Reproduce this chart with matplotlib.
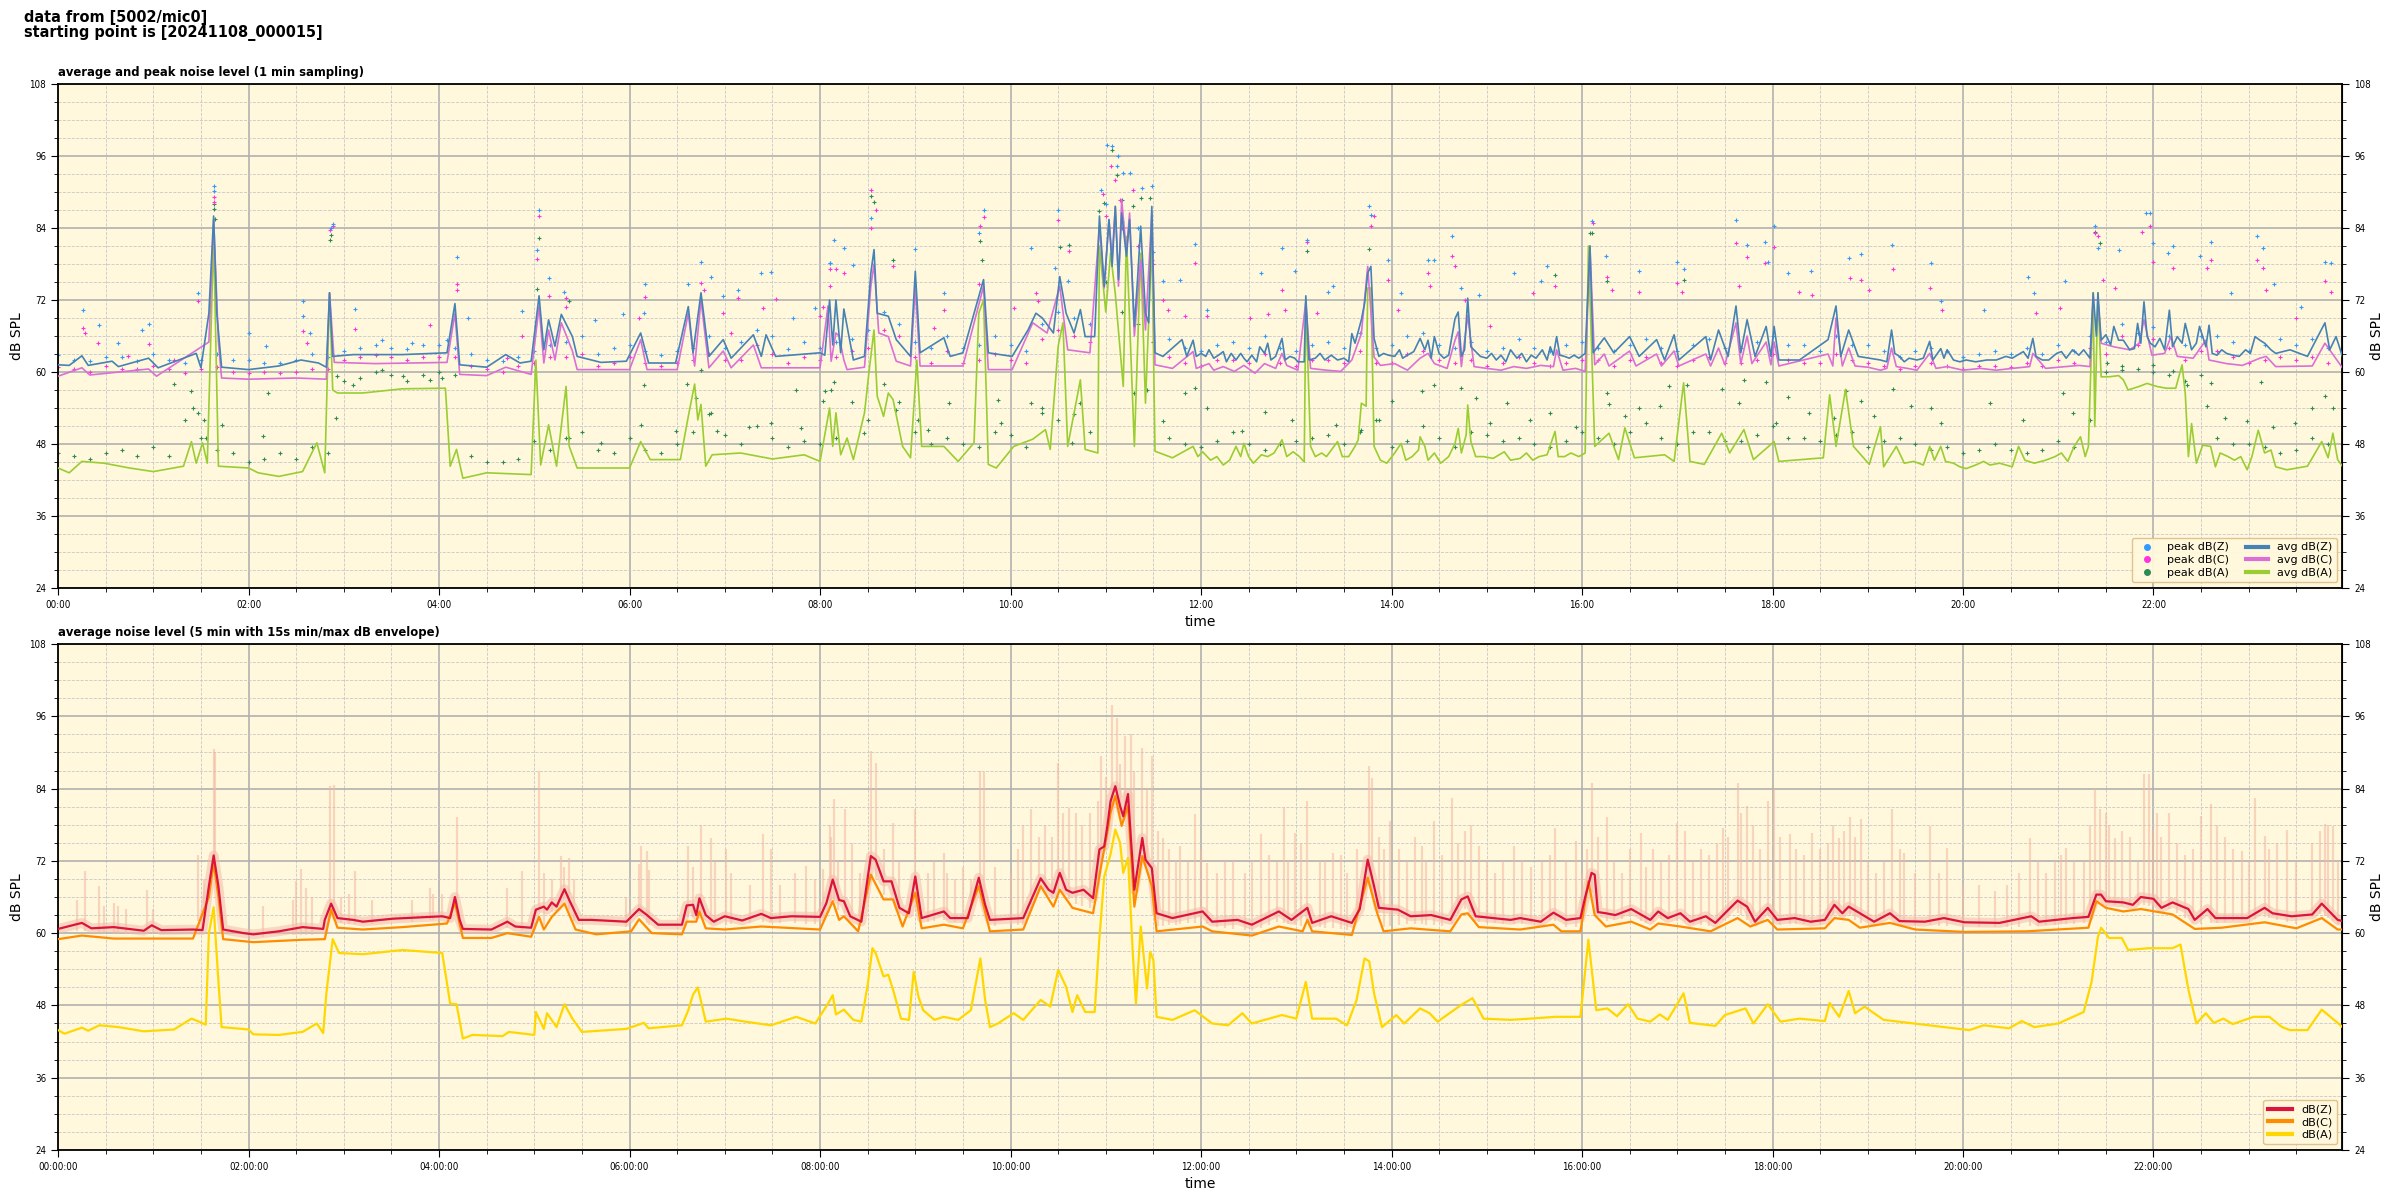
import numpy as np
import matplotlib
matplotlib.use("Agg")
import matplotlib.pyplot as plt
from matplotlib.lines import Line2D
from matplotlib.ticker import MultipleLocator, FuncFormatter
from matplotlib import font_manager as fm

plt.rcParams['font.family'] = ['DejaVu Sans']

# ---------------- TOP PANEL DATA (minutes since 00:00, dB SPL) -------------
avg_z = [(0,61.2),(7,61.1),(15,62.7),(19,61.1),(34,61.8),(38,60.9),(57,62.3),(63,60.7),(87,63.1),(90,60.7),(95,69.8),(98,86),(100,69.8),(103,60.8),(120,60.4),(139,61),(153,62),(164,61.5),(169,60.8),(171,73.2),(173,62.6),(186,62.9),(217,62.9),(245,63.2),(250,71.4),(253,61.2),(270,60.8),(282,62.9),(291,61.5),(298,61.8),(303,72.7),(306,63.7),(309,68.7),(313,64.3),(317,69.6),(324,65.9),(327,62.6),(342,61.6),(358,61.8),(367,66.5),(372,61.5),(389,61.5),(397,70.9),(400,63.2),(405,73.2),(410,62.6),(419,65.4),(424,62.3),(438,66.2),(443,62.6),(446,66.2),(452,62.6),(480,63.2),
(483,62.8),(486,72),(488,64.5),(490,72),(493,63.2),(495,70.5),(501,62),(508,62.6),(512,76.5),(514,80.4),(516,69.8),(523,69.3),(528,65.4),(537,62.6),(540,76.8),(543,63.2),(558,65.7),(562,62.6),(570,63.2),(580,72.6),(583,75.4),(586,63.2),(601,62.6),(611,67),(616,69.8),(620,69),(627,66.5),(631,75.9),(635,69.8),(640,66.5),(644,70.4),(647,65.9),(653,65.9),(656,86),(659,74.3),(662,85.4),(664,77.6),(666,87.6),(668,75.4),(670,86.5),(673,79.3),(675,85.4),(678,67.6),(680,75.4),(682,84.3),(685,69.8),(687,68.2),(689,87.6),(691,63.2),(696,62.6),(708,65.4),(711,62.6),
(715,65.3),(717,62.6),(720,63.1),(723,62.6),(725,63.7),(728,62.3),(731,62.8),(734,63.4),(736,61.7),(739,63.1),(742,62),(745,63.1),(747,62.3),(749,61.7),(752,62.8),(755,61.7),(757,64.2),(760,63.1),(762,64.8),(764,62),(767,62.6),(771,65.6),(773,62),(776,62.6),(779,62.3),(781,61.7),(785,61.7),(786,72.7),(788,62),(792,62.3),(795,63.1),(798,62),(802,62.8),(806,62),(810,62.3),(813,61.7),(815,66.4),(817,64.8),(821,68.7),(823,71.4),(825,76.5),(827,77.6),(829,65.6),(832,62.6),(835,63.1),(838,62.8),(842,62.6),(845,63.7),(847,62.3),(850,62.8),(854,63.4),(858,65.6),(861,63.7),(863,65.3),(865,62.3),(867,65.9),(870,63.1),(873,62.3),(876,62.8),(880,68.9),(882,70),(884,62.6),(886,63.7),(888,72.3),(890,64.2),(893,63.4),(896,62.6),(900,62.3),(903,63.1),(906,62),(909,62.8),(912,61.7),(915,63.7),(919,62.3),(922,63.1),(925,61.7),(928,62.8),(931,62.3),(935,63.7),(938,62),(940,64.2),(942,62.8),(944,65.9),(946,62.8),(949,62.6),(952,62.3),(955,62.8),(958,62.3),(962,63.1),(965,81),
(967,63.2),(974,65.7),(980,63.2),(990,65.9),(996,62.6),(1007,65.4),(1012,62),(1018,66.2),(1021,62),(1038,65.9),(1041,62),(1046,67),(1052,62.6),(1057,71),(1060,63.2),(1064,68.7),(1069,62.6),(1076,67.6),(1079,62.6),(1081,67.6),(1084,62),(1097,62),(1115,65.4),(1120,71),(1123,62.6),(1128,67),(1134,62.6),
(1148,62),(1152,61.7),(1155,67),(1157,63.1),(1160,62.6),(1163,61.7),(1166,62.3),(1171,62),(1175,62.3),(1179,65.1),(1181,62),(1186,63.9),(1188,62.3),(1190,63.7),(1194,62),(1198,61.7),(1202,62),(1208,61.7),(1215,62),(1221,62),(1227,62.6),(1231,62.3),(1238,63.4),(1241,62.3),(1244,65.6),(1246,62.6),(1250,62),(1254,62),(1259,63.1),(1262,63.4),(1265,62.3),(1269,63.7),(1273,62.8),(1276,63.7),(1280,62.3),(1282,73.2),(1284,66),(1285,73.2),(1287,65.3),(1290,66.2),(1293,64.5),(1295,67.6),(1298,65.3),(1301,65.3),(1305,63.7),(1308,63.9),(1310,68.1),(1312,64.8),(1314,71.7),(1316,65.9),(1318,64.8),(1321,64.2),(1324,65.6),(1327,63.7),(1330,70.3),(1332,64.2),(1335,65.9),(1338,64.8),(1340,68.1),(1344,63.7),(1347,64.8),(1349,67.6),(1353,64.2),(1355,67.8),(1357,63.1),(1360,62.8),(1363,63.7),(1366,63.1),(1370,62.8),(1374,62.6),(1378,63.7),(1381,63.1),(1384,65.9),(1387,65.3),(1390,64.8),(1394,63.7),(1397,63.1),
(1406,63.7),(1417,62.6),(1428,68.2),(1431,63.7),(1435,65.9),(1439,62.6)]

avg_c = [(0,59.3),(15,60.7),(20,59.5),(57,60.5),(62,59.3),(95,65),(98,85.4),(101,65),(103,59),(120,58.8),(150,59),(169,58.8),(171,73.2),(174,61.6),(200,61.4),(245,61.6),(250,69.8),(253,59.6),(270,59.4),(282,60.8),(298,59.6),(303,70.9),(306,61.5),(309,67),(313,62),(317,68.2),(324,63.5),(327,60.4),(360,60.4),(367,65.4),(371,60.4),(390,60.4),(397,69.8),(401,61),(405,72),(410,60.7),(419,63.5),(424,60.7),(438,64.5),(443,60.7),(480,60.7),(485,71),(487,61.8),(490,66.5),(492,66),(495,62),(497,60.4),(508,60.8),(512,74.3),(514,78),(517,66.5),(523,65.9),(528,61.8),(537,61),(540,74.3),(543,61),(570,61),(583,74.3),(586,60.4),(601,60.4),(614,68.2),(623,66.5),(631,74.3),(636,63.7),(650,63.2),(656,84.3),(659,74),(662,85.4),(664,79),(666,87.6),(668,74.3),(670,88.7),(673,80),(675,86.5),(678,66),(682,78.7),(685,67),(689,86.5),(691,61.2),(702,60.6),
(715,63.4),(717,60.6),(725,61.4),(728,60.3),(734,60.9),(741,60.1),(747,61.1),(754,59.8),(760,61.4),(767,60.6),(771,63.1),(774,61.1),(781,60.3),(786,71.8),(789,60.6),(799,60.3),(808,60.1),(815,62),(821,66.4),(825,77.6),(829,62.5),(833,61.1),(842,61.4),(850,60.3),(858,62.3),(863,63.1),(867,61.4),(875,60.6),(880,65.3),(882,66.7),(884,60.9),(888,69.4),(892,60.9),(900,60.6),(909,60.3),(917,60.9),(925,60.6),(934,61.1),(942,60.9),(944,63.7),(948,60.3),(956,60.6),(962,60.1),(965,81),
(968,61.2),(974,63),(977,61),(990,63.5),(994,61),(1007,63),(1010,61),(1018,63.5),(1021,61),(1038,63),(1041,61),(1046,64),(1050,61.2),(1057,68.2),(1060,61.4),(1064,66),(1067,61.4),(1076,65),(1079,61.2),(1081,65),(1084,61),(1115,63),(1118,61),(1120,69),(1124,61),(1128,64),(1132,61),(1140,60.8),
(1148,60.3),(1152,60.6),(1155,64),(1158,60.9),(1165,60.6),(1171,60.3),(1179,63.1),(1183,60.6),(1190,60.9),(1200,60.3),(1211,60.6),(1221,60.3),(1231,60.6),(1242,60.9),(1244,63.1),(1252,60.6),(1265,60.9),(1273,61.1),(1280,60.9),(1282,72),(1285,72),(1287,64.8),(1295,64.2),(1305,63.7),(1311,64.8),(1314,68.7),(1319,62.8),(1327,63.1),(1331,65.9),(1335,62.6),(1345,62.3),(1353,65.3),(1355,62),(1366,61.4),(1376,61.1),(1387,62.3),(1391,62.6),(1397,60.9),
(1420,61),(1428,64.8),(1439,60.7)]

avg_a = [(0,44),(7,43.2),(15,45.1),(29,44.8),(45,44),(60,43.4),(79,44.3),(84,48.4),(87,44.8),(91,48.2),(94,44.8),(98,82.6),(101,44.3),(120,44),(126,43.2),(139,42.6),(154,43.4),(163,48.2),(168,43.2),(171,73.2),(173,57),(176,56.5),(192,56.5),(217,57.2),(244,57.3),(247,44.3),(251,47.1),(255,42.3),(270,43.2),(298,42.9),(301,62),(304,44.5),(309,51.2),(314,44.3),(320,57.6),(322,47.6),(327,44),(360,44),(367,48.4),(373,45.4),(392,45.4),(397,52.6),(401,58),(403,52),(405,54.6),(408,44.3),(412,46.2),(430,46.5),(450,45.5),(470,46.2),(480,45.1),(486,54),(488,47.6),(490,53.2),(493,46.2),(497,49),(501,45.4),(508,53.2),(511,60.4),(514,67),(516,56),(520,52.6),(523,56.5),(526,55.4),(532,47.6),(537,45.7),(541,62),(544,47.6),(558,47.6),(567,45.1),(577,48.2),(580,69.8),(583,72),(586,44.6),(591,44),(602,47.6),(614,48.8),(622,50.4),(625,47.1),(630,64.3),(633,68.2),(636,47.6),(644,58.7),(647,47.1),(655,46.5),(656,81),(660,70),(663,79.8),(666,73),(671,57.6),(673,82.6),(678,47.6),(682,79.8),(685,54.8),(689,82),(691,46.8),(702,45.7),
(715,47.6),(718,45.9),(721,46.7),(726,45.3),(730,45.9),(734,44.5),(738,45.3),(742,47.6),(745,45.9),(747,48.1),(750,45.9),(753,44.8),(758,46.2),(762,45.9),(766,46.5),(771,48.7),(774,45.9),(778,46.7),(782,45.9),(785,45),(786,72),(789,47.6),(792,45.9),(796,46.5),(799,45.9),(806,48.4),(809,45.9),(813,45.9),(817,47.6),(819,48.7),(821,54.8),(824,54.3),(825,74),(827,74),(829,47.6),(833,45.3),(837,44.8),(842,46.5),(846,48.1),(849,45.3),(853,45.9),(857,47),(858,49.2),(861,47.6),(863,45.3),(867,46.5),(871,44.8),(876,45.9),(880,48.1),(882,50.6),(884,46.5),(887,49.5),(888,54.5),(890,48.4),(893,45.9),(898,45.9),(904,45.6),(911,46.7),(915,45.3),(921,45.6),(925,46.5),(929,45.3),(933,45.9),(938,46.2),(943,50.1),(945,45.9),(949,45.9),(953,46.5),(958,45.9),(962,46.5),(964,81),
(968,47.6),(977,49.8),(983,45.4),(987,50.7),(993,45.7),(1012,46.2),(1018,45.1),(1024,58.2),(1028,45.1),(1037,44.6),(1048,49.8),(1053,46.5),(1062,50.4),(1068,45.4),(1081,48.4),(1084,45.1),(1112,45.7),(1116,56.2),(1120,47.6),(1126,57.1),(1131,47.6),(1141,44.6),
(1148,50.9),(1150,44.2),(1154,45.9),(1158,47.6),(1163,44.8),(1169,45.1),(1175,44.5),(1179,47.6),(1182,45.3),(1186,47.6),(1189,45.1),(1194,44.8),(1198,44.2),(1202,43.9),(1208,44.5),(1213,45.1),(1217,44.5),(1223,44.8),(1231,44.2),(1235,47.6),(1239,45.3),(1245,44.8),(1252,45.3),(1258,45.9),(1262,46.5),(1266,45.1),(1270,47.6),(1274,49.2),(1277,45.9),(1279,47.6),(1282,73.2),(1283,50.9),(1285,73.2),(1287,59.2),(1292,59.2),(1298,59.4),(1301,58.7),(1304,57),(1311,57.6),(1316,58.1),(1322,57.6),(1328,57.3),(1334,57.3),(1338,61.2),(1340,56.5),(1342,45.9),(1344,51.4),(1347,44.8),(1351,47.8),(1356,47.6),(1359,44.2),(1362,46.5),(1367,45.9),(1371,45.3),(1375,45.9),(1379,43.7),(1382,45.9),(1386,50.3),(1390,46.5),(1394,47),(1397,44.2),
(1404,43.7),(1417,44.3),(1426,48.4),(1430,45.7),(1433,49.8),(1436,45.4),(1439,44.3)]

# typical 1-min peak levels, two readings per 20 minutes
peak_t1 = list(range(10, 1440, 20))
peak_t2 = list(range(0, 1440, 20))
peak_z_1 = [62,62.5,61.8,62,62,62,61.5,62,62.5,64,64,64.5,64,62,62.5,64.5,66,64,63.5,63.5,66,65,66,65,
            65,67,68,64,64,66,63.5,70,68,85,80,64,64.5,64,64,64.5,64,64,66,64.5,65,64,64,64.5,
            64,64.5,64,64.5,64,65,64.5,63.5,64.5,63.5,63.5,63.5,63,63,63,63.5,65,66.5,66,66,65,64.5,64.5,64]
peak_z_2 = [62.8,61.8,62.5,63,61.5,63,62,61.5,63,63.5,64.5,63.8,64.5,63,61.8,63.5,65,63,64.5,62.8,64,64,67,63.8,
            64,65.5,70,65,66,64.5,64.5,68,69,88,84,65.5,63.5,65,66,63.5,65,66.5,64.5,66.5,64,63.5,65.5,63.5,
            65,63.5,65.5,63.5,65.5,64,66,64.5,66,64.5,62.5,64,62.5,63.5,64,64.5,66,68,67.5,64.5,66,63.5,65.5,65.5]
peak_c_1 = [60.5,61,60.5,60.5,60.5,60,60,60,60.5,62.5,62.5,62.5,62.5,60.5,61,62.5,63,61.5,61.5,61.5,63,62,63,62.5,
            62.5,64,66,61.5,61.5,63,61.5,67,65,84,78,61.5,62,61.5,61.5,62,61.5,61.5,63,62,62,61.5,61.5,61.5,
            62,62,61.5,62,61.5,62,62,61.5,62,61,61,61,61,60.8,61,61.5,63,64.5,64,63.5,62.5,62,62,61.5]
peak_c_2 = [60.8,60,60.5,61,59.8,60.8,59.8,59.8,60.5,62,62.8,62,62.5,61,60,61.5,62.5,61,62.5,61,62,62,64.5,61.5,
            62,63.5,67,62.5,63.5,62,62,65.5,66,86,81,62.5,61,62,63,61,62,63.5,61.5,63.5,61.5,61,62.5,61,
            62,61,62.5,61,62.5,61.5,63,61.5,63,61.5,60.5,61.5,60.5,61,61.5,62,64,66,65.5,62,63.5,61.5,62.5,62.5]
peak_a_1 = [46,46.5,46,46,49,46.5,45.5,45.5,46.5,59,59.5,59.5,59.5,45,45.5,47,50,46.5,47,48,53,48,49,48.5,
            49,52,55,48,48,50,47.5,52,50,70,65,48,48.5,48,48,49,48,52,48.5,49,50,48.5,48,48.5,
            49,50,49,50,48.5,49.5,49,48.5,50,48.5,48,47.5,47,47,47,47.5,60,60.5,59.5,59.5,48,47.5,47,48]
peak_a_2 = [46.5,45.5,47,47.5,52,47,45,46.5,47.5,58.5,60,58.5,60,46,45,48.5,49,47,49,46.5,50,49.5,51,47.5,
            48,55,58,50,49,47.5,49.5,54,53,75,68,49,47.5,50,47,48.5,49.5,50,47.5,51,47.5,49.5,49,47.5,
            50,48,51.5,48,50,48.5,51,49,49.5,47.5,49,47,46.5,48,46.5,48.5,52,61,60,58.5,49,48,46.5,49]

peak_z_out = [(16,70.4),(26,67.9),(38,64.8),(53,67),(57,68),(88,73.2),(98,90.1),(98,91),(120,66.5),(131,64.3),(154,71.8),(154,69.3),(159,66.5),(172,84),(173,84.7),(187,70.5),(204,65.4),(223,64.8),(245,65.4),(251,79.2),(258,69),(292,70.2),(303,87),(302,80.4),(309,75.7),(319,73.4),(338,68.7),(356,69.6),(370,74.6),(369,69.8),(397,74.6),(405,78.4),(411,75.9),(419,72.6),(428,73.7),(443,76.5),(449,76.6),(463,69),(477,70.7),(486,78.2),
              (489,82),(495,80.7),(486,78.2),(512,85.7),(501,77.9),(540,80.5),(558,73.2),(583,87),(580,83.2),(613,80.7),(630,87),(628,77.3),(636,75.1),(661,97.9),(664,97.7),(668,96),(667,94.3),(671,93.2),(675,93.2),(657,90.4),(683,90.7),(689,91),(696,75.1),(716,81.4),(707,75.4),(724,70.4),(758,76.5),(771,80.7),(779,76.8),(787,82),(800,73.4),(803,74.3),(826,87.6),(827,86.2),(838,78.7),(846,73.2),(863,78.7),(867,78.7),(878,82.6),(884,74),(895,72.9),(917,76.5),(934,75.1),(938,77.6),(966,85.1),
              (975,79.4),(996,76.8),(1020,78.4),(1024,77.1),(1057,85.3),(1064,81.2),(1075,81.7),(1077,78.4),(1081,84.3),(1090,76.5),(1104,76.8),(1128,79),(1136,79.6),(1155,81.2),(1180,78.2),(1186,71.8),(1213,70.4),(1241,75.8),(1245,73.2),(1264,75.1),(1283,84.3),(1285,80.7),(1298,80.4),(1315,86.5),(1318,86.5),(1320,81.5),(1329,79.8),(1332,81),(1349,79.3),(1356,81.6),(1369,73.2),(1385,82.6),(1389,80.7),(1396,74.6),(1413,70.9),(1428,78.3),(1432,78.2)]

peak_c_out = [(16,67.3),(17,66.5),(25,64.8),(44,62.6),(57,64.6),(73,62),(88,71.8),(98,89.2),(98,88.4),(154,66.9),(157,64.8),(171,83.7),(173,84.4),(187,67.2),(234,67.9),(251,74.7),(251,73.7),(283,62.3),(292,66),(303,86),(302,78.9),(309,72.6),(320,70.9),(320,72.3),(366,69),(370,72.5),(405,74.8),(407,73.7),(419,69.8),(424,66.5),(428,72.3),(444,70.7),(452,72.2),(480,69.3),(486,77.1),
              (482,70.9),(486,74.3),(490,77.1),(495,76.5),(512,90.4),(515,87),(512,84),(526,77.6),(552,67.3),(558,70.4),(580,74.6),(581,84.3),(583,85.9),(602,70.7),(616,73.2),(617,71.8),(630,85.4),(637,80.1),(658,89.6),(663,94.4),(666,92),(669,88.7),(677,90.4),(689,78.7),(696,72),(699,70.4),(710,69.3),(716,78.2),(724,69.3),(751,69),(762,69.6),(771,73.6),(773,70.4),(787,81.6),(793,69.8),(827,84.3),(829,86),(838,75.4),(844,70.4),(863,76.5),(864,74.3),(878,79.3),(880,77.6),(886,72),(902,67.6),(929,73.2),(943,74.3),(967,84.8),
              (976,75.9),(979,73.6),(996,73.4),(1020,74.8),(1023,73.4),(1057,81.5),(1059,74.3),(1064,79.2),(1075,78.2),(1081,80.9),(1097,73.4),(1105,72.9),(1129,75.7),(1136,75.4),(1141,73.7),(1156,77.2),(1179,74),(1187,70.4),(1246,69.8),(1261,70.7),(1283,83.2),(1285,82.6),(1288,75.4),(1296,74),(1313,83.4),(1318,84.3),(1320,78.4),(1332,77.3),(1354,77.3),(1356,78.7),(1385,78.7),(1389,77.3),(1391,73.6),(1410,69),(1428,75.1),(1432,73.4)]

peak_a_out = [(73,58),(84,56.8),(85,54),(88,53.2),(92,52),(93,49),(98,88),(98,87.2),(99,85.5),(103,51.2),(129,49.3),(132,56.5),(172,82.9),(171,82),(175,52.3),(176,59.3),(186,57.9),(204,60.4),(217,59.3),(234,58.7),(242,59),(303,82.3),(302,73.8),(322,71.8),(322,49),(342,48.2),(369,57.9),(367,51.2),(389,50.1),(396,58),(402,55.7),(405,60.4),(411,53.2),(415,50.1),(435,50.9),(449,51.5),(465,57),(468,50.7),(482,55.1),(487,57),
              (483,56.8),(489,58.4),(508,49.8),(512,89.3),(514,88.4),(526,78.7),(528,53.7),(542,52),(548,50.4),(561,54.8),(581,81.8),(582,78.7),(592,55.4),(594,51.5),(613,54.8),(620,53.2),(631,80.9),(637,81.2),(639,48.2),(644,54.8),(656,86.8),(659,88.2),(664,97),(667,92.9),(670,88.7),(677,87.6),(682,89),(688,89),(678,56.5),(686,57),(696,51.8),(710,56.5),(716,57.3),(724,54),(746,50.1),(760,53.4),(777,52),(787,80.1),(805,51.2),(821,50.4),(826,80.5),(832,52),(840,55.1),(859,56.8),(867,57.9),(884,57.3),(893,55.7),(902,51.5),(913,54.8),(927,52),(943,76.2),(940,53.2),(956,50.9),(966,83.2),
              (965,83.2),(976,75.1),(976,56.5),(977,54.6),(987,52.6),(996,54),(1009,54.3),(1015,57.6),(1024,75.4),(1026,57.9),(1048,57.1),(1059,54.8),(1062,58.7),(1076,58.4),(1082,51.5),(1090,55.9),(1103,53.2),(1119,52.3),(1126,56.8),(1136,55.1),(1144,52.6),(1156,57.1),(1167,54.3),(1180,54),(1186,51.5),(1217,54.8),(1238,52),(1263,56.5),(1269,53.2),(1283,83.4),(1286,81.5),(1291,61.5),(1300,60.4),(1320,61.2),(1332,60.1),(1341,57.9),(1354,54.3),(1356,58.2),(1365,52.3),(1379,51.8),(1388,58.4),(1395,50.9),(1409,51.5),(1420,54),(1428,56),(1433,54)]

# ---------------- BOTTOM PANEL DATA (5 min averages) -----------------------
bot_z = [(0,60.7),(15,61.7),(21,60.8),(35,61),(54,60.4),(59,61.3),(65,60.5),(85,60.6),(91,60.5),(95,67.8),(98,72.9),(101,67.8),(104,60.6),(117,60),(123,59.8),(139,60.3),(154,61),(167,60.7),(168,62.2),(172,64.9),(176,62.5),(186,62.2),(192,61.9),(211,62.4),(242,62.8),(247,62.5),(250,66),(253,62.2),(255,60.7),(273,60.6),(283,61.9),(288,61.1),(298,60.9),(301,63.9),(306,64.4),(308,63.9),(311,65.1),(314,64.4),(319,67.3),(322,65.5),(328,62.2),(336,62.2),(358,61.9),(366,64),(371,63),(378,61.4),(393,61.4),(396,64.6),(400,64.7),(402,63),(404,65.8),(408,63),(413,61.9),(420,62.8),(431,62.1),(443,63.2),(449,62.5),(462,62.8),(480,62.7),(484,65),(488,68.9),
         (492,65.5),(495,65.3),(499,62.8),(506,61.9),(512,72.8),(515,72.2),(520,68.6),(525,68.6),(530,64.2),(536,63.3),(540,69.4),(544,62.5),(558,63.6),(562,62.5),(573,62.5),(580,69.2),(584,64.7),(587,62.2),(608,62.5),(619,69.1),(624,67.2),(627,66.7),(631,70),(635,67.2),(639,66.7),(646,67.2),(652,65.8),(656,73.9),(659,74.4),(661,77.8),(663,81.9),(666,84.4),(669,81.1),(671,79.4),(674,83.1),(676,75),(678,67.2),(683,75.8),(685,72.2),(689,70.8),(692,63.3),(702,62.5),(721,63.6),(727,61.9),(743,62.2),(752,61.4),(769,63.6),(777,62.2),(787,64.2),(790,61.7),(802,62.8),(815,61.7),(820,64),(825,72.2),(829,67.8),(832,64.2),(844,63.9),(852,62.8),(865,63),(877,62.2),(884,65.6),(888,66.1),(893,62.8),(915,62.2),(921,62.5),(934,61.9),(942,63.4),(950,62.2),(959,62.5),(962,66),(966,70),(968,69.7),(970,63.5),
         (975,63.3),(981,63),(991,64),(1003,62.2),(1008,63.6),(1014,62.5),(1022,63.3),(1028,61.9),(1038,62.8),(1044,61.7),(1050,63.3),(1058,65.4),(1064,64.4),(1069,61.9),(1077,64.2),(1083,62.2),(1094,62.5),(1104,61.9),(1113,62.2),(1119,64.7),(1124,63.3),(1128,64.4),(1135,63.3),(1144,61.9),(1154,63.3),(1160,62),(1176,61.9),(1188,62.5),(1201,61.8),(1223,61.7),(1243,62.8),(1248,61.9),(1269,62.5),(1279,62.7),(1284,66.4),(1287,66.4),(1290,65.3),(1301,65.1),(1307,64.7),(1312,66),(1320,65.7),(1325,64.2),(1332,65.1),(1342,64),(1346,62.2),(1354,64),(1359,62.5),(1379,62.5),(1390,64.2),(1395,63.3),(1407,62.8),(1420,63.1),(1426,64.9),(1436,62.2),(1439,62)]

bot_c = [(0,59),(15,59.6),(35,59.1),(85,59.1),(95,66),(98,71.7),(101,66),(104,59),(123,58.5),(154,58.9),(168,59),(172,63.9),(176,60.9),(192,60.6),(217,61),(245,61.6),(250,65),(255,59.2),(273,59.2),(283,60),(298,59.4),(303,62.7),(306,60.6),(311,62.7),(319,64.9),(326,60.6),(339,59.8),(361,60.3),(366,62.3),(374,60),(393,59.8),(396,61.9),(402,61.9),(404,63.6),(408,60.8),(420,60.6),(443,61.1),(480,60.6),(488,65.3),(492,62.2),(495,62.8),(504,60.3),(512,69.7),(520,65.6),(526,65.6),(532,61.1),(540,66.7),(544,60.8),(558,61.4),(570,60.8),(580,67.8),(587,60.3),(608,60.6),(619,67.8),(627,64.4),(631,67.2),(639,64.2),(652,63.3),(657,71.1),(661,76.7),(663,80),(666,82.8),(670,77.8),(674,81.1),(678,64.4),(683,72.8),(689,67.8),(692,60.3),(721,61.1),(727,60.3),(752,59.6),(769,61.1),(784,60.3),(787,62.2),(790,60.3),(815,59.7),(825,69.2),(831,63.3),(835,60.3),(852,60.8),(877,60.3),(884,63.1),(888,63.3),(895,61),(921,60.6),(942,61.4),(947,60.3),(959,60.3),(964,68.6),(968,63),(975,61.1),(991,61.9),(1003,60.6),(1008,61.6),(1022,61.1),(1041,60.3),(1058,62.5),(1066,61.1),(1077,62.2),(1083,60.6),(1113,60.8),(1119,62.5),(1128,62.2),(1135,60.9),(1154,61.7),(1170,60.6),(1201,60.2),(1240,60.3),(1279,60.9),(1284,65.3),(1290,64.2),(1301,63.6),(1312,64),(1332,63.1),(1346,60.7),(1363,60.9),(1390,61.8),(1410,60.8),(1426,62.5),(1436,60.6),(1439,60.6)]

bot_a = [(0,43.9),(4,43.3),(15,44.3),(19,43.8),(26,44.7),(38,44.4),(54,43.7),(73,44),(84,45.8),(88,45.4),(93,44.8),(95,60),(98,64.3),(101,52),(103,44.4),(120,44),(123,43.2),(139,43.1),(154,43.6),(163,45),(167,43.4),(169,50),(173,59),(177,56.7),(192,56.5),(217,57.2),(242,56.7),(247,48.3),(251,48.2),(255,42.5),(261,43.1),(280,42.9),(284,43.6),(300,43.1),(301,46.9),(306,44.1),(308,46.7),(314,44.4),(319,48.2),(324,45.8),(330,43.6),(358,44.1),(369,45.1),(372,44.2),(393,44.7),(397,47.2),(400,49.8),(403,51),(408,45.3),(421,45.8),(433,45.3),(449,44.7),(465,46.1),(477,45),(485,48.3),
         (488,49.7),(490,46.5),(495,47.3),(501,45.6),(506,45.3),(510,51.4),(513,57.5),(515,56.7),(520,52.8),(523,53.1),(526,50.6),(531,45.8),(536,45.6),(539,53.6),(542,49.4),(545,47.2),(552,45.6),(558,46.1),(567,45.6),(575,47.2),(581,55.8),(584,48.9),(587,44.4),(592,45),(602,46.7),(608,45.6),(619,48.9),(625,47.8),(630,53.9),(635,51.1),(639,46.9),(642,49.7),(647,46.9),(653,46.9),(656,59.2),(659,69.4),(663,73.1),(666,77.2),(669,75),(671,70),(674,72.5),(677,56.7),(679,48.3),(682,61.1),(686,50.8),(688,56.9),(690,55.5),(692,46.1),(702,45.6),(716,47.2),(727,45),(737,44.7),(746,46.7),(752,45),(771,46.4),(780,45.8),(786,51.9),(790,45.8),(805,45.8),(812,44.7),(818,48.9),(823,55.8),(826,55.3),(829,50),(834,44.4),(843,46.4),(848,45),(858,47.5),(864,46.7),(869,45.3),(884,48.1),(891,49.2),(898,45.8),(915,45.6),(927,45.8),(943,46.1),(959,46.1),(964,58.9),(969,47.2),
         (976,47.5),(982,46.2),(989,48.2),(995,45.8),(1003,45.3),(1009,46.5),(1014,45.6),(1024,50),(1028,45.1),(1044,44.6),(1050,46.4),(1063,47.5),(1068,45),(1077,48.2),(1085,45.3),(1097,45.8),(1113,45.4),(1116,48.4),(1122,46.1),(1128,50.4),(1132,46.7),(1138,47.8),(1150,45.6),(1169,45),(1194,44.2),(1204,43.9),(1213,44.7),(1229,44.2),(1237,45.4),(1245,44.4),(1260,45),(1276,46.9),(1281,51.9),(1285,59.4),(1287,60.9),(1292,59.2),(1300,59.2),(1304,57.2),(1317,57.5),(1332,57.5),(1337,58.1),(1342,50.6),(1347,45),(1353,46.7),(1358,45.1),(1364,45.8),(1370,44.9),(1383,46.1),(1393,46.1),(1401,44.4),(1406,43.9),(1417,43.9),(1426,47.3),(1436,45.1),(1439,44.4)]

# 15 s max dB envelope peaks
env_max = [(17,70.3),(26,67.8),(56,67.1),(88,73),(98,90.6),(99,90),(150,68.6),(153,70.6),(171,84.4),(174,84.6),(187,70.3),(234,67.5),(251,79.2),(292,70.3),(303,87),(317,72.8),(322,72.5),(367,74.4),(371,73.6),(397,74.4),(405,78),(411,75.8),(421,73.9),(444,76.4),(449,73.9),(471,71.1),(486,78),
           (482,70.6),(489,82.2),(496,80.6),(512,90.3),(515,88.3),(526,78.3),(540,80.6),(558,73.3),(581,86.9),(583,86.8),(613,80.6),(630,88.3),(637,80.8),(657,89.4),(664,97.8),(667,95.8),(672,92.8),(676,93),(683,90.8),(689,89.4),(696,75.8),(716,79.7),(707,74.4),(724,71.7),(758,76.4),(772,80.7),(779,76.7),(787,81.9),(803,73.3),(826,87.8),(828,85.8),(839,78.6),(859,74.4),(867,78.6),(878,82.5),(895,74.4),(917,74.4),(943,77.5),(956,75.3),(966,85),
           (976,79.2),(997,76.7),(1020,78.3),(1025,76.9),(1049,77.5),(1058,85),(1064,81.1),(1077,81.9),(1081,83.9),(1091,76.4),(1105,76.7),(1122,75.8),(1129,79.2),(1136,78.9),(1155,80.6),(1163,73.3),(1179,77.8),(1190,74.2),(1242,75.8),(1265,74.2),(1283,83.9),(1286,80.6),(1296,75.8),(1314,86.4),(1317,86.4),(1320,77.2),(1330,80),(1350,79.4),(1356,81.4),(1376,73.6),(1384,82.5),(1390,76.1),(1404,77.2),(1428,78.1),(1433,77.8)]
env_max_small = [(12,65.5),(29,64.5),(35,65),(38,64.5),(43,64),(60,64),(92,69),(129,64.5),(148,65.5),(156,67.5),(160,66),(178,66),(183,66.5),(198,65.5),(223,65.5),(236,66.5),(242,66.5),(283,67.5),(306,70),(311,69),(319,71),(325,69),(358,66),(366,71.5),(372,70.5),(400,71),(414,72),(424,70),(436,68),(455,68),(464,70),(477,69),
                 (487,76),(491,72),(500,75),(505,70),(520,74),(530,72),(548,70),(552,72),(560,70),(565,69),(570,71),(575,69),(590,71),(600,70),(605,74),(608,78),(618,76),(622,78),(626,76),(633,80),(641,80),(645,78),(650,80),(655,82),(660,86),(669,88),(678,87),(686,84),(693,77),(700,74),(704,72),(712,72),(720,74),(730,70),(735,72),(740,72),(748,70),(752,72),(763,73),(768,72),(775,72),(783,75),(795,72),(798,72),(808,73),(812,70),(818,74),(832,76),(835,74),(845,74),(850,72),(855,76),(862,72),(872,73),(882,75),(886,77),(890,78),(900,72),(905,70),(910,72),(922,72),(928,71),(935,72),(940,73),(950,72),(960,70),
                 (963,74),(970,76),(980,72),(985,70),(990,74),(1000,71),(1005,74),(1010,72),(1015,73),(1030,72),(1035,74),(1040,73),(1045,75),(1052,76),(1060,80),(1068,78),(1072,74),(1085,76),(1095,74),(1100,73),(1110,74),(1115,75),(1118,78),(1125,77),(1132,76),(1140,72),(1145,70),(1150,72),(1160,74),(1170,70),(1185,70),(1200,68),(1210,68),(1220,67),(1228,68),(1235,70),(1247,72),(1252,70),(1258,72),(1262,73),(1270,72),(1276,72),(1280,78),(1290,80),(1292,78),(1300,77),(1305,76),(1310,72),(1322,80),(1325,76),(1335,75),(1340,73),(1345,74),(1360,78),(1365,76),(1370,74),(1380,72),(1393,74),(1398,75),(1410,72),(1420,75),(1425,77),(1430,78),(1436,72)]

# ----------------------------------------------------------------------------
def unz(pairs):
    a = np.array(pairs, dtype=float)
    return a[:, 0], a[:, 1]

# pick a condensed face for titles / ticks if one is installed
COND = {}
_faces = fm.fontManager.ttflist
if any(f.name == 'DejaVu Sans' and f.stretch in ('condensed', 'semi-condensed') for f in _faces):
    COND = dict(family='DejaVu Sans', fontstretch='condensed')
elif any(f.name == 'Liberation Sans Narrow' for f in _faces):
    COND = dict(family='Liberation Sans Narrow')
elif any(f.name == 'Roboto Condensed' for f in _faces):
    COND = dict(family='Roboto Condensed')

BG = '#fff8dc'
fig = plt.figure(figsize=(24, 12), dpi=100)
L, R = 0.0242, 0.976
ax1 = fig.add_axes([L, 0.51, R - L, 0.42])
ax2 = fig.add_axes([L, 0.0417, R - L, 0.4216])

fig.text(0.0098, 0.992, "data from [5002/mic0]\nstarting point is [20241108_000015]",
         ha='left', va='top', fontsize=11.6 if COND else 10.5, fontweight='bold', linespacing=1.0, **COND)

def style(ax, fmt):
    ax.set_facecolor(BG)
    ax.set_xlim(0, 1439)
    ax.set_ylim(24, 108)
    ax.yaxis.set_major_locator(MultipleLocator(12))
    ax.yaxis.set_minor_locator(MultipleLocator(3))
    ax.xaxis.set_major_locator(MultipleLocator(120))
    ax.xaxis.set_minor_locator(MultipleLocator(30))
    ax.xaxis.set_major_formatter(FuncFormatter(fmt))
    ax.grid(which='major', color='#b0b0b0', lw=1.2, ls='-')
    ax.grid(which='minor', color='#c8c8c8', lw=0.6, ls='--')
    ax.set_axisbelow(True)
    ax.tick_params(which='both', direction='out', labelsize=7, right=True, labelright=True)
    ax.tick_params(which='major', length=5)
    ax.tick_params(which='minor', length=3)
    for lab in ax.get_xticklabels() + ax.get_yticklabels():
        if COND:
            lab.set_family(COND['family'])
            if 'fontstretch' in COND:
                lab.set_fontstretch('condensed')
    for s in ax.spines.values():
        s.set_linewidth(1.3)
    ax.set_xlabel('time', fontsize=10)
    ax.set_ylabel('dB SPL', fontsize=10)
    sec = ax.secondary_yaxis('right')
    sec.set_ylabel('dB SPL', fontsize=10, labelpad=20)
    sec.set_yticks([])
    sec.tick_params(right=False, labelright=False)

style(ax1, lambda v, p: f"{int(v // 60):02d}:00")
style(ax2, lambda v, p: f"{int(v // 60):02d}:00:00")

# ---- top panel
c_pz, c_pc, c_pa = '#3399ff', '#ff33dd', '#2e8b57'
c_az, c_ac, c_aa = '#4682b4', '#da70d6', '#9acd32'
for b1, b2, out, col in [(peak_a_1, peak_a_2, peak_a_out, c_pa), (peak_c_1, peak_c_2, peak_c_out, c_pc),
                         (peak_z_1, peak_z_2, peak_z_out, c_pz)]:
    ax1.plot(peak_t1, b1, '+', color=col, ms=3.5, mew=0.8, zorder=2)
    ax1.plot(peak_t2, b2, '+', color=col, ms=3.5, mew=0.8, zorder=2)
    t, v = unz(out)
    ax1.plot(t, v, '+', color=col, ms=3.5, mew=0.8, zorder=2)
for series, col in [(avg_a, c_aa), (avg_c, c_ac), (avg_z, c_az)]:
    t, v = unz(series)
    ax1.plot(t, v, color=col, lw=1.2, zorder=3)

h1 = [Line2D([], [], marker='o', ls='', color=c_pz, ms=4, label='peak dB(Z)'),
      Line2D([], [], marker='o', ls='', color=c_pc, ms=4, label='peak dB(C)'),
      Line2D([], [], marker='o', ls='', color=c_pa, ms=4, label='peak dB(A)'),
      Line2D([], [], color=c_az, lw=3, label='avg dB(Z)'),
      Line2D([], [], color=c_ac, lw=3, label='avg dB(C)'),
      Line2D([], [], color=c_aa, lw=3, label='avg dB(A)')]
ax1.legend(handles=h1, loc='lower right', ncol=2, fontsize=8, facecolor=BG,
           edgecolor='#e0c08c', framealpha=0.95, handlelength=2.0, borderpad=0.4,
           labelspacing=0.25, columnspacing=1.5)
ax1.set_title('average and peak noise level (1 min sampling)', loc='left',
              fontsize=9.3 if COND else 8, fontweight='bold', pad=6, **COND)

# ---- bottom panel
zt, zv = unz(bot_z)
ct, cv = unz(bot_c)
at, av = unz(bot_a)
for env in (env_max, env_max_small):
    et, ev = unz(env)
    env_floor = np.interp(et, ct, cv) + 0.8
    ax2.vlines(et, env_floor, ev, color='#f4b8a4', lw=1.6, alpha=0.55, zorder=2)
ax2.plot(zt, zv, color='#f4bba8', lw=7, alpha=0.55, solid_capstyle='butt', zorder=2)
ax2.plot(at, av, color='gold', lw=1.6, zorder=3)
ax2.plot(ct, cv, color='darkorange', lw=1.6, zorder=4)
ax2.plot(zt, zv, color='crimson', lw=1.6, zorder=5)
h2 = [Line2D([], [], color='crimson', lw=3, label='dB(Z)'),
      Line2D([], [], color='darkorange', lw=3, label='dB(C)'),
      Line2D([], [], color='gold', lw=3, label='dB(A)')]
ax2.legend(handles=h2, loc='lower right', fontsize=8, facecolor=BG, edgecolor='#e0c08c',
           framealpha=0.95, handlelength=2.2, borderpad=0.4, labelspacing=0.25)
ax2.set_title('average noise level (5 min with 15s min/max dB envelope)', loc='left',
              fontsize=9.3 if COND else 8, fontweight='bold', pad=6, **COND)

fig.savefig('out.png', dpi=100, facecolor='white')
